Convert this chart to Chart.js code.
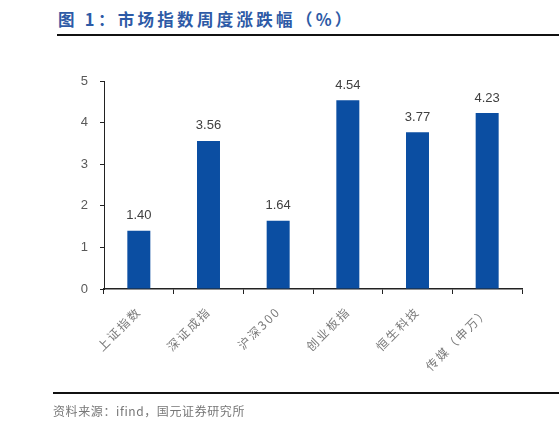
<!DOCTYPE html>
<html>
<head>
<meta charset="utf-8">
<script src="https://cdn.jsdelivr.net/npm/chart.js@4"></script>
<style>
html,body{margin:0;padding:0;background:#fff;width:559px;height:429px;overflow:hidden;}
#wrap{position:relative;width:559px;height:429px;}
#title{position:absolute;left:58px;top:8px;font-family:"Noto Sans CJK SC";font-weight:bold;font-size:16.5px;letter-spacing:3.3px;color:#2D5AA6;white-space:nowrap;line-height:22px;}
#topline{position:absolute;left:57px;top:34px;width:502px;height:2px;background:#111;}
#botline{position:absolute;left:53px;top:392px;width:506px;height:2px;background:#111;}
#source{position:absolute;left:53px;top:403px;font-family:"Noto Sans CJK SC";font-size:12px;letter-spacing:0.6px;color:#777;white-space:nowrap;line-height:16px;}
canvas{position:absolute;left:0;top:0;}
</style>
</head>
<body>
<div id="wrap">
<div id="title">图 1：市场指数周度涨跌幅（%）</div>
<div id="topline"></div>
<canvas id="c" width="559" height="429"></canvas>
<div id="botline"></div>
<div id="source">资料来源：ifind，国元证券研究所</div>
</div>
<script>
const categories = ["上证指数","深证成指","沪深300","创业板指","恒生科技","传媒（申万）"];
const values = [1.40, 3.56, 1.64, 4.54, 3.77, 4.23];
const yTicks = [0,1,2,3,4,5];

const spacing = {
  id: 'spacing',
  beforeDraw(chart) { chart.ctx.letterSpacing = '2px'; }
};

const valueLabels = {
  id: 'valueLabels',
  afterDatasetsDraw(chart) {
    const ctx = chart.ctx;
    const meta = chart.getDatasetMeta(0);
    ctx.save();
    ctx.letterSpacing = '0px';
    ctx.font = '13px "Liberation Sans", Arial, sans-serif';
    ctx.fillStyle = '#404040';
    ctx.textAlign = 'center';
    ctx.textBaseline = 'middle';
    meta.data.forEach((bar, i) => {
      ctx.fillText(values[i].toFixed(2), bar.x, bar.y - 15);
    });
    ctx.restore();
  }
};

new Chart(document.getElementById('c'), {
  type: 'bar',
  data: {
    labels: categories,
    datasets: [{
      data: values,
      backgroundColor: '#0B4EA2',
      borderWidth: 0,
      categoryPercentage: 1,
      barPercentage: 0.33
    }]
  },
  options: {
    responsive: false,
    animation: false,
    devicePixelRatio: 1,
    layout: { padding: { left: 64, right: 37, top: 81, bottom: 0 } },
    plugins: { legend: { display: false }, tooltip: { enabled: false } },
    scales: {
      x: {
        offset: true,
        grid: { offset: true, drawOnChartArea: false, drawTicks: true, tickLength: 5, color: '#222', lineWidth: 1 },
        border: { display: true, color: '#222', width: 1.5 },
        ticks: {
          maxRotation: 45, minRotation: 45,
          autoSkip: false,
          font: { family: '"Noto Sans CJK SC"', size: 12 },
          color: '#7a7a7a',
          padding: 10
        },
        afterFit(scale) { scale.height = 140; }
      },
      y: {
        min: 0, max: 5,
        afterBuildTicks(scale) { scale.ticks = yTicks.map(v => ({ value: v })); },
        grid: { drawOnChartArea: false, drawTicks: true, tickLength: 4, color: '#222' },
        border: { display: true, color: '#222', width: 1 },
        ticks: {
          font: { family: '"Liberation Sans", Arial, sans-serif', size: 13 },
          color: '#595959',
          padding: 10
        },
        afterFit(scale) { scale.width = 40; }
      }
    }
  },
  plugins: [spacing, valueLabels]
});
</script>
</body>
</html>
